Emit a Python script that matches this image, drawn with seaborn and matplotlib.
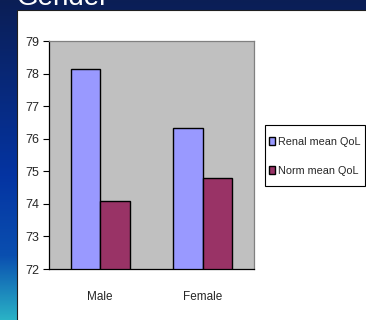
import numpy as np
import pandas as pd
import matplotlib
matplotlib.use("Agg")
import matplotlib.pyplot as plt
from matplotlib.colors import LinearSegmentedColormap
from matplotlib.patches import Rectangle
import seaborn as sns

categories = ["Male", "Female"]
renal_qol = [78.13, 76.32]
norm_qol = [74.09, 74.78]
series_names = ["Renal mean QoL", "Norm mean QoL"]
y_ticks = [72, 73, 74, 75, 76, 77, 78, 79]
title_text = "Gender"

df = pd.DataFrame({
    "Gender": categories * 2,
    "Series": [series_names[0]] * len(categories) + [series_names[1]] * len(categories),
    "QoL": renal_qol + norm_qol,
})

sns.set_style("white")
plt.rcParams["font.family"] = ["Liberation Sans", "DejaVu Sans"]

W, H = 366, 320
fig = plt.figure(figsize=(W / 100, H / 100), dpi=100)

# gradient background
bg = fig.add_axes([0, 0, 1, 1], zorder=0)
cmap = LinearSegmentedColormap.from_list(
    "bg", [(0, "#0B1E55"), (0.55, "#0434A2"), (0.8, "#0A4FB0"), (1.0, "#2AB2C6")])
grad = np.linspace(0, 1, 256).reshape(-1, 1)
bg.imshow(grad, aspect="auto", cmap=cmap, extent=[0, 1, 0, 1], origin="upper")
bg.set_axis_off()
bg.set_xlim(0, 1)
bg.set_ylim(0, 1)
bg.add_patch(Rectangle((16.5 / W, -0.1), 1, 0.1 + (H - 9.5) / H, transform=bg.transAxes,
                       facecolor="white", edgecolor="#202020", linewidth=0.8))
# legend frame
bg.add_patch(Rectangle((264.5 / W, 1 - 186 / H), (365 - 264.5) / W, (186 - 125) / H,
                       transform=bg.transAxes, facecolor="white", edgecolor="black",
                       linewidth=0.8, zorder=3))
fig.text(17 / W, 1 - 5 / H, title_text, color="white", fontsize=20,
         family=["Liberation Sans", "DejaVu Sans"], va="baseline", ha="left", zorder=5)

ax = fig.add_axes([49 / W, (H - 269) / H, (254 - 49) / W, (269 - 41) / H], zorder=2)
ax.set_facecolor("#C0C0C0")
sns.barplot(data=df, x="Gender", y="QoL", hue="Series", order=categories,
            hue_order=series_names, palette=["#9999FF", "#993366"], saturation=1,
            width=0.58, gap=0, edgecolor="black", linewidth=1.0, ax=ax,
            errorbar=None, legend=True)
ax.set_ylim(72, 79)
ax.set_yticks(y_ticks)
ax.set_yticklabels([str(t) for t in y_ticks], fontsize=9)
ax.set_xlim(-0.5, 1.5)
ax.set_xticks([0, 1])
ax.set_xticklabels(categories, fontsize=8.5)
ax.set_xticks([-0.5, 0.5, 1.5], minor=True)
ax.tick_params(axis="x", which="major", length=0, pad=16)
ax.tick_params(axis="x", which="minor", length=4, direction="out", width=0.8, color="black")
ax.tick_params(axis="y", length=4, direction="out", width=0.8, color="black", pad=3, left=True)
ax.set_xlabel("")
ax.set_ylabel("")
for s in ["left", "bottom"]:
    ax.spines[s].set_color("black")
    ax.spines[s].set_linewidth(0.9)
for s in ["top", "right"]:
    ax.spines[s].set_color("#808080")
    ax.spines[s].set_linewidth(0.9)

h, l = ax.get_legend_handles_labels()
ax.get_legend().remove()
fs = 7.8
px = fs * 100 / 72
leg = fig.legend(h, l, loc="center left", bbox_to_anchor=(269 / W, 1 - 156.5 / H),
                 fontsize=fs, frameon=False, handlelength=5.5 / px,
                 handleheight=0.75, handletextpad=3.5 / px, borderpad=0,
                 labelspacing=1.75, borderaxespad=0)
leg.set_zorder(6)

fig.savefig("out.png", dpi=100)
